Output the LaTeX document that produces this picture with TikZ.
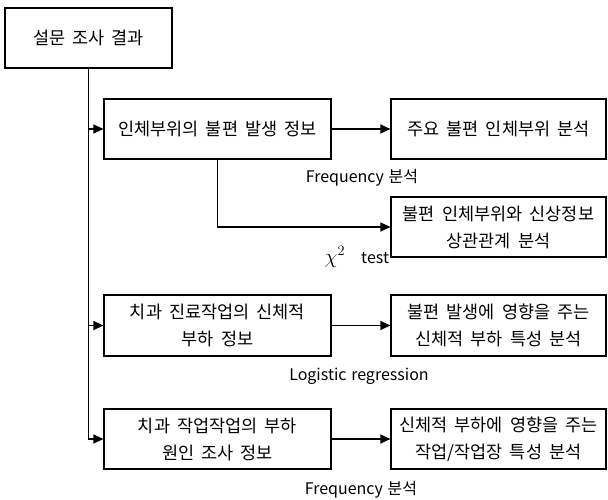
\documentclass[tikz,border=0pt]{standalone}
\usepackage{fontspec}
\setmainfont{Noto Sans CJK KR}[WordSpace=1.8]
\newfontfamily\lblfont{Noto Sans CJK KR}[WordSpace=1.3]
\usetikzlibrary{arrows.meta}

\begin{document}
\begin{tikzpicture}[x=1pt, y=-1pt, line width=1.2pt,
	box/.style={draw, inner sep=0pt, minimum height=60pt, align=center, font=\fontsize{17.5}{27}\selectfont},
	leftbox/.style={box, minimum width=227pt},
	rightbox/.style={box, minimum width=215pt},
	lbl/.style={font=\lblfont\fontsize{16}{18}\selectfont},
	>={Triangle[length=10pt, width=9pt]}]
		\useasboundingbox (0,0) rectangle (608,500);
		\node[box, minimum width=167pt] (survey) at (88.5,38) {설문 조사 결과};
		\node[leftbox] (body) at (217.5,129) {인체부위의 불편 발생 정보};
		\node[rightbox] (major) at (498.5,129) {주요 불편 인체부위 분석};
		\node[rightbox] (corr) at (498.5,227) {불편 인체부위와 신상정보\\상관관계 분석};
		\node[leftbox, minimum height=61pt] (load) at (217.5,325.5) {치과 진료작업의 신체적\\부하 정보};
		\node[rightbox, minimum height=61pt] (loadres) at (498.5,325.5) {불편 발생에 영향을 주는\\신체적 부하 특성 분석};
		\node[leftbox] (cause) at (217.5,439) {치과 작업작업의 부하\\원인 조사 정보};
		\node[rightbox] (causeres) at (498.5,439) {신체적 부하에 영향을 주는\\작업/작업장 특성 분석};
		\node[lbl] (freqa) at (362,178) {Frequency 분석};
		\node[lbl] (chi) at (357,257) {{\fontsize{20}{20}\selectfont$\chi^{2}$}\quad test};
		\node[lbl] (logit) at (359,376) {Logistic regression};
		\node[lbl] (freqb) at (361,490) {Frequency 분석};
		\coordinate (jbody) at (survey.south |- body.west);
		\coordinate (jload) at (survey.south |- load.west);
		\draw[->] (survey.south) |- (cause.west);
		\draw[->] (jbody) -- (body.west);
		\draw[->] (jload) -- (load.west);
		\draw[->] (body) -- (major);
		\draw[->] (body.south) |- (corr.west);
		\draw[->] (load) -- (loadres);
		\draw[->] (cause) -- (causeres);
\end{tikzpicture}
\end{document}
